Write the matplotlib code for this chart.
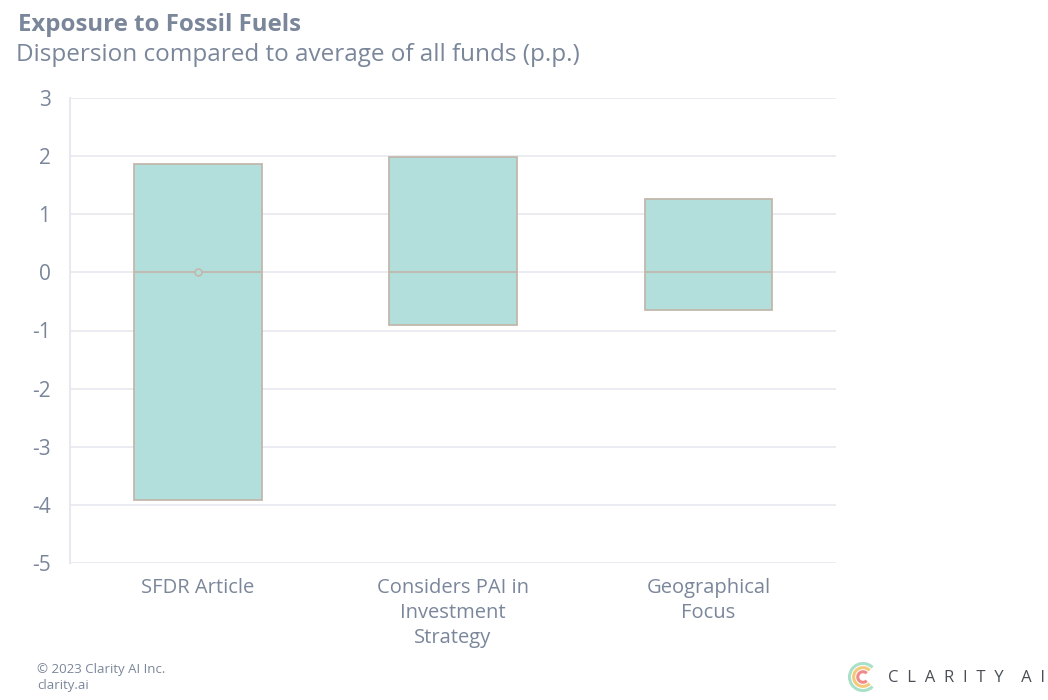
import matplotlib.pyplot as plt
from matplotlib.patches import Arc

plt.rcParams['font.family'] = ['Open Sans', 'DejaVu Sans']

categories = ["SFDR Article", "Considers PAI in\nInvestment\nStrategy", "Geographical\nFocus"]
q1 = [-3.92, -0.91, -0.65]
q3 = [1.86, 1.98, 1.26]
medians = [0, 0, 0]
means = [0, None, None]
yticks = [3, 2, 1, 0, -1, -2, -3, -4, -5]

text_color = "#7a869a"
box_fill = "#b2dfdb"
box_edge = "#c2b8ad"
grid_color = "#e8e9ef"

fig = plt.figure(figsize=(10.48, 7), dpi=100)
ax = fig.add_axes([70 / 1048, 1 - 563 / 700, 766 / 1048, 465 / 700])

stats = []
for i in range(len(categories)):
    stats.append({"q1": q1[i], "q3": q3[i], "med": medians[i],
                  "whislo": q1[i], "whishi": q3[i], "fliers": [],
                  "mean": means[i] if means[i] is not None else 0})

ax.bxp(stats, positions=range(len(categories)), widths=0.5, patch_artist=True,
       showcaps=False, showfliers=False, showmeans=False,
       boxprops=dict(facecolor=box_fill, edgecolor=box_edge, linewidth=1.3),
       medianprops=dict(color=box_edge, linewidth=1.3),
       whiskerprops=dict(color=box_edge, linewidth=0))

for i, m in enumerate(means):
    if m is not None:
        ax.plot(i, m, marker="o", markersize=5, markerfacecolor=box_fill,
                markeredgecolor=box_edge, markeredgewidth=1.2, zorder=5)

ax.set_xlim(-0.5, len(categories) - 0.5)
ax.set_ylim(-5, 3)
ax.set_yticks(yticks)
ax.set_yticklabels([str(t) for t in yticks])
ax.set_xticks(range(len(categories)))
ax.set_xticklabels(categories, linespacing=1.32)
ax.tick_params(axis="both", length=0, labelsize=15, colors=text_color)
ax.tick_params(axis="x", labelsize=14.5, pad=11)
ax.tick_params(axis="y", pad=14)
ax.grid(axis="y", color=grid_color, linewidth=1.2)
ax.set_axisbelow(True)
for s in ["top", "right", "bottom"]:
    ax.spines[s].set_visible(False)
ax.spines["left"].set_color(grid_color)
ax.spines["left"].set_linewidth(1.5)

fig.text(18 / 1048, 1 - 25 / 700, "Exposure to Fossil Fuels", fontsize=17.3,
         fontweight="bold", color=text_color, va="center")
fig.text(16 / 1048, 1 - 55 / 700, "Dispersion compared to average of all funds (p.p.)",
         fontsize=17.5, color=text_color, va="center")
fig.text(37 / 1048, 1 - 669 / 700, "© 2023 Clarity AI Inc.", fontsize=9.5,
         color=text_color, va="center")
fig.text(37 / 1048, 1 - 685 / 700, "clarity.ai", fontsize=9.5,
         color=text_color, va="center")

# logo
lax = fig.add_axes([848 / 1048, 1 - 692 / 700, 30 / 1048, 30 / 700])
lax.set_xlim(-1, 1)
lax.set_ylim(-1, 1)
lax.set_aspect("equal")
lax.axis("off")
lax.add_patch(Arc((0, 0), 1.8, 1.8, theta1=45, theta2=315, color="#a8e0c8", lw=2.2))
lax.add_patch(Arc((0, 0), 1.25, 1.25, theta1=45, theta2=315, color="#f5c97a", lw=2.2))
lax.add_patch(Arc((0, 0), 0.7, 0.7, theta1=45, theta2=315, color="#f08a8a", lw=2.2))
fig.text(888 / 1048, 1 - 678 / 700, "C  L  A  R  I  T  Y    A  I", fontsize=12,
         color="#4a4f57", va="center")

fig.savefig("out.png", dpi=100)
